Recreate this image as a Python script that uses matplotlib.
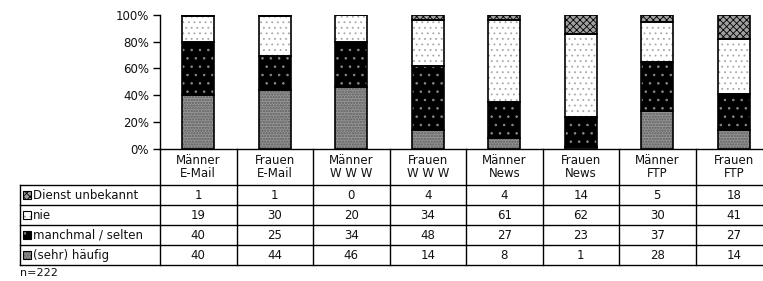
import numpy as np
import matplotlib
matplotlib.use("Agg")
import matplotlib.pyplot as plt
from matplotlib.patches import Rectangle

plt.rcParams['font.family'] = ['DejaVu Sans']
plt.rcParams['hatch.linewidth'] = 0.6

categories = ["Männer\nE-Mail", "Frauen\nE-Mail", "Männer\nW W W", "Frauen\nW W W",
              "Männer\nNews", "Frauen\nNews", "Männer\nFTP", "Frauen\nFTP"]
haeufig = [40, 44, 46, 14, 8, 1, 28, 14]
manchmal = [40, 25, 34, 48, 27, 23, 37, 27]
nie = [19, 30, 20, 34, 61, 62, 30, 41]
unbekannt = [1, 1, 0, 4, 4, 14, 5, 18]
y_ticks = [0, 20, 40, 60, 80, 100]
note = "n=222"

series_labels = ["(sehr) häufig", "manchmal / selten", "nie", "Dienst unbekannt"]
series_vals = [haeufig, manchmal, nie, unbekannt]
# (facecolor, hatch, hatchcolor)
styles = [("#949494", "oooooo", "#707070"),
          ("#000000", "..", "#8a8a8a"),
          ("#ffffff", "...", "#a8a8a8"),
          ("#a0a0a0", "xxxxx", "#000000")]

FS = 8.5
TXT = "#111111"
W, H = 763, 281
fig = plt.figure(figsize=(W / 100, H / 100), dpi=100)

ax_left, ax_right = 160, 772
y_top, y_bot = 15, 148.7
ax = fig.add_axes([ax_left / W, 1 - y_bot / H, (ax_right - ax_left) / W, (y_bot - y_top) / H])
x = np.arange(len(categories)) + 0.5
bw = 32 / 76.5
bottom = np.zeros(len(categories))
for vals, (fc, hatch, hc) in zip(series_vals, styles):
    vals = np.array(vals, dtype=float)
    ax.bar(x, vals, bw, bottom=bottom, color=fc, hatch=hatch, edgecolor=hc, linewidth=0, zorder=2)
    ax.bar(x, vals, bw, bottom=bottom, fill=False, edgecolor="black", linewidth=1.2, zorder=3)
    bottom += vals
ax.set_xlim(0, len(categories))
ax.set_ylim(0, 100)
ax.set_yticks(y_ticks)
ax.set_yticklabels([f"{t}%" for t in y_ticks], fontsize=FS, color=TXT)
ax.set_xticks([])
ax.tick_params(axis='y', length=5, width=1, pad=3)
for s in ["top", "right"]:
    ax.spines[s].set_visible(False)
ax.spines["left"].set_linewidth(1)
ax.spines["bottom"].set_linewidth(1)
ax.patch.set_alpha(0)

# Table overlay in pixel coordinates
ov = fig.add_axes([0, 0, 1, 1])
ov.set_xlim(0, W)
ov.set_ylim(H, 0)
ov.axis("off")
ov.patch.set_alpha(0)

col_w = 76.5
rows_y = [185, 205, 225, 245, 264.5]
tbl_left = 20
lw = 1
for yy in rows_y:
    ov.plot([tbl_left, W + 5], [yy, yy], color="black", lw=lw, clip_on=False)
ov.plot([tbl_left, tbl_left], [rows_y[0], rows_y[-1]], color="black", lw=lw)
for k in range(len(categories) + 1):
    xx = ax_left + k * col_w
    ov.plot([xx, xx], [y_bot, rows_y[-1]], color="black", lw=lw, clip_on=False)

for i, c in enumerate(categories):
    ov.text(ax_left + (i + 0.5) * col_w, (y_bot + rows_y[0]) / 2 + 0.5, c, ha="center", va="center",
            fontsize=FS, linespacing=1.0, color=TXT)

table_order = [3, 2, 1, 0]
for r, si in enumerate(table_order):
    yc = (rows_y[r] + rows_y[r + 1]) / 2
    fc, hatch, hc = styles[si]
    ov.add_patch(Rectangle((22.5, yc - 4), 8, 8, facecolor=fc, hatch=hatch, edgecolor=hc, linewidth=0))
    ov.add_patch(Rectangle((22.5, yc - 4), 8, 8, fill=False, edgecolor="black", linewidth=0.8))
    ov.text(33, yc + 0.5, series_labels[si], ha="left", va="center", fontsize=FS, color=TXT)
    for i, v in enumerate(series_vals[si]):
        ov.text(ax_left + (i + 0.5) * col_w, yc + 0.5, str(v), ha="center", va="center",
                fontsize=FS, color=TXT)

ov.text(20, 273.5, note, ha="left", va="center", fontsize=8, color=TXT)

fig.savefig("out.png", dpi=100)
